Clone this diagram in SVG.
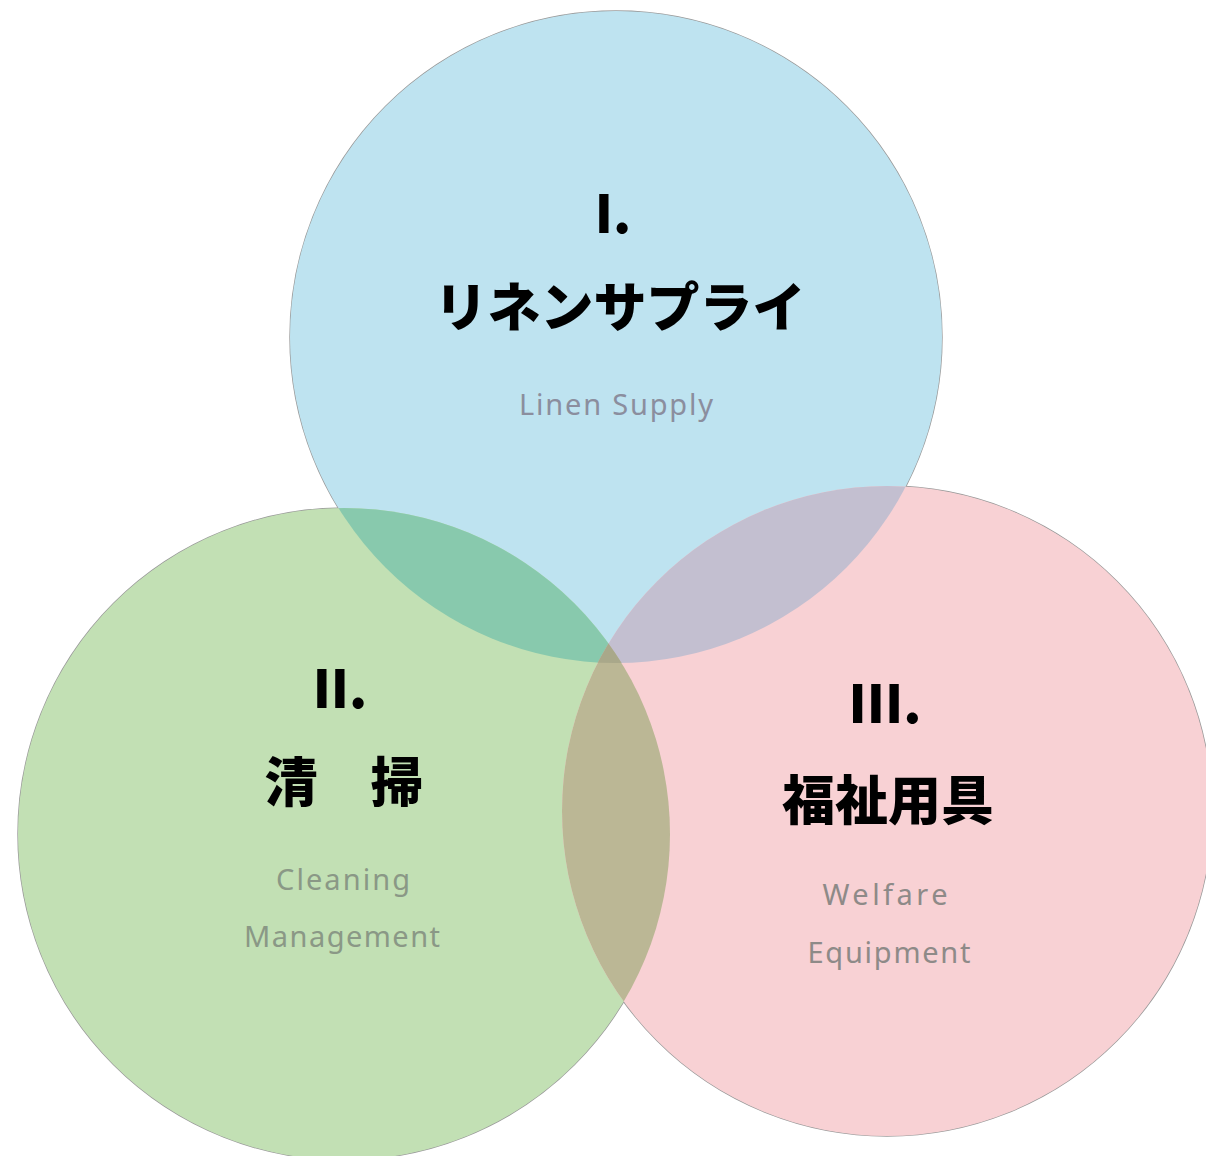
<svg xmlns="http://www.w3.org/2000/svg" width="1206" height="1156" viewBox="0 0 1206 1156">
  <style>
    .num { font-family: "Noto Sans CJK JP", "Noto Sans", sans-serif; font-weight: 900; font-size: 52px; fill: #000; text-anchor: middle; }
    .jp { font-family: "Noto Sans CJK JP", sans-serif; font-weight: 900; font-size: 53px; fill: #000; text-anchor: middle; }
    .en { font-family: "Noto Sans", "Open Sans", sans-serif; font-weight: 400; font-size: 29px; text-anchor: middle; }
    .outline { fill: none; stroke: #9a9a9a; stroke-width: 1.4; }
  </style>
  <defs>
    <clipPath id="clipBlue"><circle cx="616" cy="337" r="326"/></clipPath>
    <clipPath id="clipGreen"><circle cx="344" cy="834" r="326"/></clipPath>
    <clipPath id="clipPink"><circle cx="887" cy="811" r="325"/></clipPath>
  </defs>
  <rect width="1206" height="1156" fill="#ffffff"/>

  <g id="outlines">
    <circle class="outline" cx="616" cy="337" r="326"/>
    <circle class="outline" cx="344" cy="834" r="326"/>
    <circle class="outline" cx="887" cy="811" r="325"/>
  </g>

  <g id="node-linen-supply">
    <circle cx="616" cy="337" r="326" fill="#bee3f0"/>
    <text class="num" x="613" y="233">I.</text>
    <text class="jp" x="620" y="327">リネンサプライ</text>
    <text class="en" x="616" y="415" fill="#8b8e9e" textLength="194" lengthAdjust="spacing">Linen Supply</text>
  </g>

  <g id="node-cleaning">
    <circle cx="344" cy="834" r="326" fill="#c2e0b4"/>
    <text class="num" x="340" y="708">II.</text>
    <text class="jp" x="344" y="802">清　掃</text>
    <text class="en" x="343" y="890" fill="#8a9886" textLength="134" lengthAdjust="spacing">Cleaning</text>
    <text class="en" x="342" y="947" fill="#8a9886" textLength="196" lengthAdjust="spacing">Management</text>
  </g>

  <g id="node-welfare">
    <circle cx="887" cy="811" r="325" fill="#f8d1d4"/>
    <text class="num" x="885" y="723">III.</text>
    <text class="jp" x="888" y="820">福祉用具</text>
    <text class="en" x="885" y="905" fill="#8e8a88" textLength="125" lengthAdjust="spacing">Welfare</text>
    <text class="en" x="889" y="963" fill="#8e8a88" textLength="163" lengthAdjust="spacing">Equipment</text>
  </g>

  <g id="overlaps">
    <circle cx="344" cy="834" r="326" fill="#88c9ad" clip-path="url(#clipBlue)"/>
    <circle cx="887" cy="811" r="325" fill="#c3bfd0" clip-path="url(#clipBlue)"/>
    <circle cx="887" cy="811" r="325" fill="#bbb795" clip-path="url(#clipGreen)"/>
    <g clip-path="url(#clipBlue)">
      <circle cx="887" cy="811" r="325" fill="#a9a88a" clip-path="url(#clipGreen)"/>
    </g>
  </g>
</svg>
